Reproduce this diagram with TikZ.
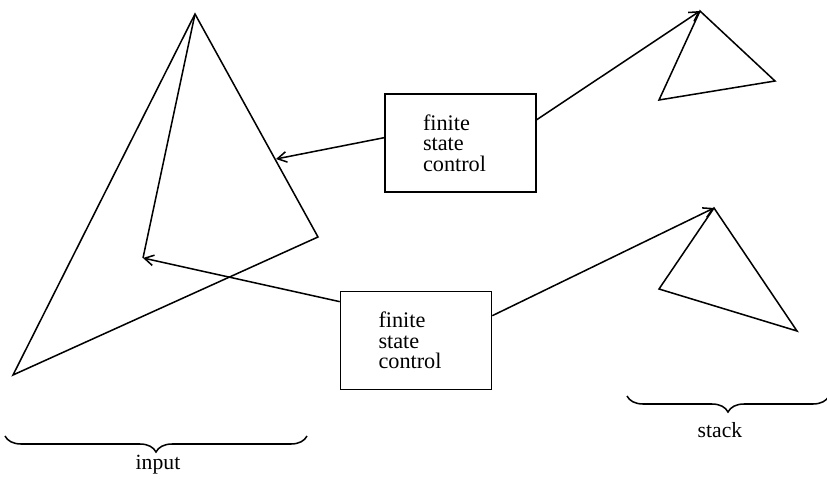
\documentclass[tikz,border=0pt]{standalone}
\usepackage{fontspec}
\setmainfont{Liberation Serif}
\usetikzlibrary{arrows,arrows.meta,decorations.pathreplacing}

\begin{document}
\begin{tikzpicture}[x=0.03cm,y=-0.03cm,>={Straight Barb[angle=60:9pt]},line width=1.3pt,
        fsc/.style={draw,minimum width=4.53cm,minimum height=2.94cm,align=left,
                    text width=2.25cm,font=\fontsize{19}{17.5}\selectfont},
        lbl/.style={font=\fontsize{18.5}{17.5}\selectfont},
        brc/.style={decorate,decoration={brace,mirror,amplitude=0.48cm}}]
                \useasboundingbox (0,0) rectangle (827,479);
                % input
                \coordinate (it) at (195,14);
                \coordinate (ir) at (318,237);
                \coordinate (il) at (13,375);
                \coordinate (ia) at (276,159);
                \coordinate (ib) at (143,258);
                % stacks
                \coordinate (st1) at (700,11);
                \coordinate (sr1) at (775,81);
                \coordinate (sl1) at (659,100);
                \coordinate (st2) at (714,208);
                \coordinate (sr2) at (797,331);
                \coordinate (sl2) at (659,289);
                % braces
                \coordinate (bi1) at (5,436);
                \coordinate (bi2) at (307,436);
                \coordinate (bs1) at (627,396);
                \coordinate (bs2) at (829,396);

                \node[fsc] (c1) at (460.5,143) {finite\\state\\control};
                \node[fsc] (c2) at (416,340.5) {finite\\state\\control};
                \node[lbl] (in) at (158,465) {input};
                \node[lbl] (sk) at (720,430) {stack};

                \draw (it) -- (ir) -- (il) -- cycle;
                \draw (it) -- (ib);
                \draw (st1) -- (sr1) -- (sl1) -- cycle;
                \draw (st2) -- (sr2) -- (sl2) -- cycle;

                \path[->] (c1.176) edge (ia)
                          (c1.17)  edge (st1)
                          (c2.153) edge (ib)
                          (c2.18)  edge (st2);

                \draw[brc] (bi1) -- (bi2);
                \draw[brc] (bs1) -- (bs2);
\end{tikzpicture}
\end{document}
